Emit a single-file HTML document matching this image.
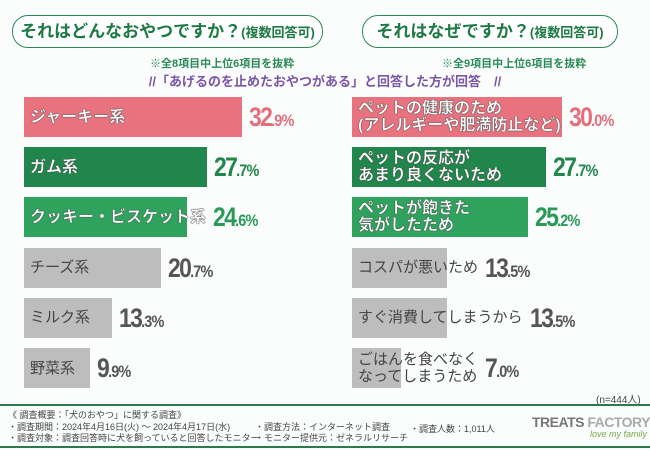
<!DOCTYPE html>
<html><head><meta charset="utf-8">
<style>
body{margin:0;width:650px;height:450px;overflow:hidden;background:#fbfdfd;font-family:"Liberation Sans","Noto Sans CJK JP",sans-serif;position:relative}
.pill{position:absolute;top:15px;height:31px;border:1.5px solid #2a8a55;border-radius:16px;background:#fff;color:#1e7a45;font-weight:bold;font-size:17px;line-height:31px;text-align:center}
.pill small{font-size:13px}
.note{position:absolute;top:55px;font-size:11px;color:#2a8a55;font-weight:bold}
.sub{position:absolute;top:71px;left:0;width:650px;text-align:center;font-size:13px;color:#7a55a8;font-weight:bold}
.bar{position:absolute;height:40px}
.lab{position:absolute;font-weight:bold;font-size:16px;line-height:17px;white-space:nowrap}
.lab.w{color:#fff;-webkit-text-stroke:0.3px #555;text-shadow:0 0 1px #333}
.lab.g{color:#444;font-weight:normal;font-size:15px}
.val{position:absolute;font-size:27px;font-weight:bold;white-space:nowrap;letter-spacing:-2px;transform:scaleX(0.85);transform-origin:left center;line-height:40px}
.val small{font-size:17px;letter-spacing:-1px}
.foot{position:absolute;font-size:9px;color:#444;white-space:nowrap}
.line{position:absolute;left:0;width:650px;height:2px;background:#2a7a4e}
</style></head><body>
<div class="pill" style="left:12px;width:309px">それはどんなおやつですか？<small>(複数回答可)</small></div>
<div class="pill" style="left:362px;width:254px">それはなぜですか？<small>(複数回答可)</small></div>
<div class="note" style="left:150px">※全8項目中上位6項目を抜粋</div>
<div class="note" style="left:442px">※全9項目中上位6項目を抜粋</div>
<div class="sub">//「あげるのを止めたおやつがある」と回答した方が回答　//</div>
<div id="chart"></div>
<div class="foot" style="left:596px;top:391px;font-size:10px">(n=444人)</div>
<div class="line" style="top:404px"></div>
<div class="foot" style="left:8px;top:410px;line-height:11.5px">《 調査概要：「犬のおやつ」に関する調査》<br>・調査期間：2024年4月16日(火) ～ 2024年4月17日(水)<br>・調査対象：調査回答時に犬を飼っていると回答したモニター</div>
<div class="foot" style="left:255px;top:421.5px;line-height:11.5px">・調査方法：インターネット調査<br>・モニター提供元：ゼネラルリサーチ</div>
<div class="foot" style="left:410px;top:421.5px">・調査人数：1,011人</div>
<div style="position:absolute;left:532px;top:414px;font-size:14px;font-weight:bold;color:#777;letter-spacing:-0.5px">TREATS <span style="color:#aaa">FACTORY</span></div>
<div style="position:absolute;left:590px;top:429px;font-size:9px;font-style:italic;color:#7aa84a">love my family</div>
<div class="line" style="top:446px"></div>
<script>
const leftCategories=["ジャーキー系","ガム系","クッキー・ビスケット系","チーズ系","ミルク系","野菜系"];
const leftValues=[32.9,27.7,24.6,20.7,13.3,9.9];
const rightCategories=["ペットの健康のため<br>(アレルギーや肥満防止など)","ペットの反応が<br>あまり良くないため","ペットが飽きた<br>気がしたため","コスパが悪いため","すぐ消費してしまうから","ごはんを食べなく<br>なってしまうため"];
const rightValues=[30.0,27.7,25.2,13.5,13.5,7.0];
const colors=["#e8737f","#21864c","#2fa35e","#bdbdbd","#bdbdbd","#bdbdbd"];
const valColors=["#e2707c","#21864c","#2a9a58","#555","#555","#555"];
const chart=document.getElementById('chart');
function draw(cats,vals,x0,scale,side){
  cats.forEach((c,i)=>{
    const y=97+i*50.2;
    const w=vals[i]*scale;
    const b=document.createElement('div');
    b.className='bar';
    
    
    b.style.cssText=`left:${x0}px;top:${y}px;width:${w}px;background:${colors[i]}`;
    chart.appendChild(b);
    const l=document.createElement('div');
    l.className='lab '+(i<3?'w':'g');
    
    
    l.innerHTML=c;
    chart.appendChild(l);
    const lines=c.split('<br>').length;
    l.style.left=(x0+6)+'px';
    l.style.top=(y+20-lines*8.5)+'px';
    const end=Math.max(x0+w,x0+6+l.offsetWidth);
    const v=document.createElement('div');
    v.className='val';
    
    
    const s=vals[i].toFixed(1).split('.');
    v.innerHTML=s[0]+'<small>.'+s[1]+'%</small>';
    v.style.cssText=`left:${end+7}px;top:${y}px;color:${valColors[i]}`;
    chart.appendChild(v);
  });
}
draw(leftCategories,leftValues,24,6.62,'left');
draw(rightCategories,rightValues,352,7.0,'right');
</script>
</body></html>
